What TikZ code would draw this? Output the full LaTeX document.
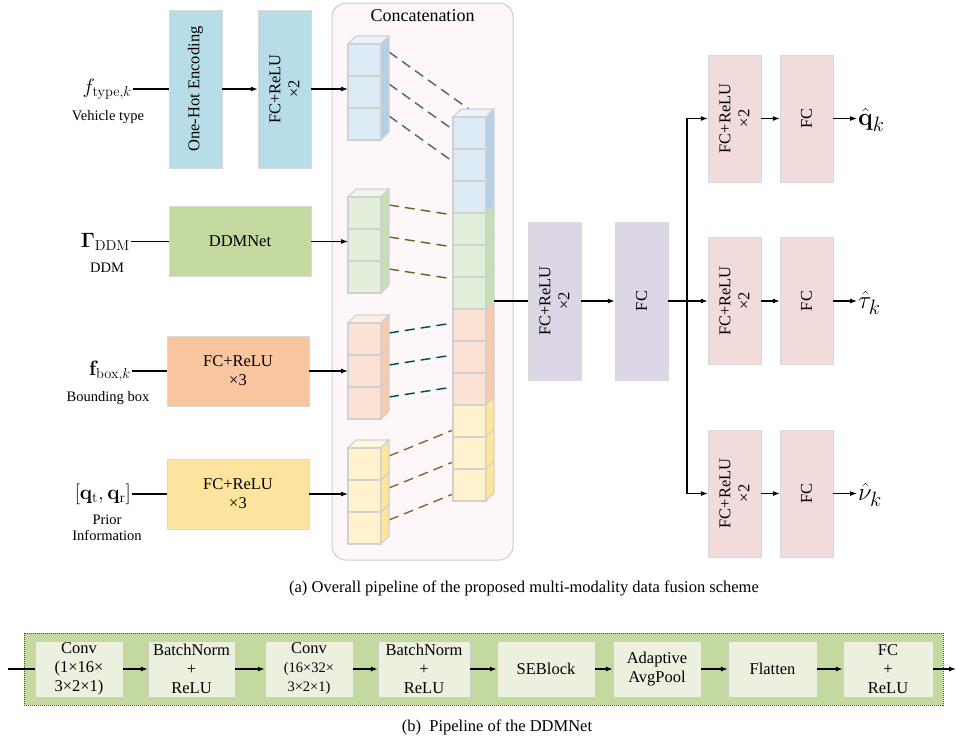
\documentclass[tikz,border=0pt]{standalone}
\usepackage{amsmath}
\usepackage{amssymb}
\usepackage[no-math]{fontspec}
\setmainfont{Liberation Serif}
\usepackage{tikz}
\usetikzlibrary{arrows.meta,positioning,calc}
\definecolor{blueBox}{HTML}{B7DDE8}
\definecolor{greenBox}{HTML}{C4D9A0}
\definecolor{orangeBox}{HTML}{F8C59F}
\definecolor{yellowBox}{HTML}{FCE49E}
\definecolor{purpleBox}{HTML}{DDD6E7}
\definecolor{pinkBox}{HTML}{F2DCDB}
\definecolor{panelFill}{HTML}{FDF7F9}
\definecolor{innerBox}{HTML}{EBF1DE}
% stack colours: front, side, top
\definecolor{blueF}{HTML}{DDEBF7}\definecolor{blueS}{HTML}{B4D0E9}\definecolor{blueT}{HTML}{EAF2FA}
\definecolor{greenF}{HTML}{E2EFDA}\definecolor{greenS}{HTML}{C6E0B4}\definecolor{greenT}{HTML}{EEF5E9}
\definecolor{orangeF}{HTML}{FBE2D5}\definecolor{orangeS}{HTML}{F8CBAD}\definecolor{orangeT}{HTML}{FDEEE5}
\definecolor{yellowF}{HTML}{FFF2CC}\definecolor{yellowS}{HTML}{FFE699}\definecolor{yellowT}{HTML}{FFF7E0}
\tikzset{%
  box/.style={draw=white!85!black,fill=#1,align=center,inner sep=2pt},
  arrow/.style={-{Latex[length=7pt,width=5pt]}, line width=1.1pt},
  wire/.style={line width=1.1pt},
  cube/.style={draw=black!18,line width=1.1pt}%
}
% cells of a stack: x, top y, number of cells, front colour, side colour
\newcommand{\cubecells}[5]{%
  \foreach \i in {1,...,#3} {
    \pgfmathsetmacro\ya{#2+32*(\i-1)}
    \filldraw[cube, fill=#4] (#1,\ya) rectangle ++(33,32);
    \filldraw[cube, fill=#5] (#1+33,\ya) -- ++(8,-8) -- ++(0,32) -- ++(-8,8) -- cycle;
  }%
}
% top face of a stack: x, top y, colour
\newcommand{\cubetop}[3]{%
  \filldraw[cube, fill=#3] (#1,#2) -- ++(8,-8) -- ++(33,0) -- ++(-8,8) -- cycle;%
}

\begin{document}
\begin{tikzpicture}[
    x=1pt, y=-1pt,
    font=\fontsize{16.5}{19}\selectfont,
    vbox/.style={
        box=#1,
        rotate=90,
        minimum height=53pt
    },
    hbox/.style={
        box=#1,
        minimum width=142pt,
        minimum height=70pt
    },
    ddmbox/.style={
        draw=white!80!black,
        fill=innerBox,
        align=center,
        minimum height=56pt,
        inner sep=1pt
    },
    sym/.style={font=\fontsize{20.74}{24}\selectfont, inner sep=1pt},
    outsym/.style={font=\fontsize{24.88}{28}\selectfont, inner sep=1pt},
    note/.style={font=\fontsize{14.5}{16}\selectfont, align=center, inner sep=0pt},
    fuse/.style={line width=1.4pt, dash pattern=on 10pt off 6pt}
]
\useasboundingbox (0,0) rectangle (956,745);

% Concatenation panel
\node[draw=black!20, fill=panelFill, rounded corners=14pt, line width=1pt,
      minimum width=181pt, minimum height=557pt] (concat) at (422.5,281.5) {};
\node[font=\fontsize{18}{20}\selectfont] (concattitle) at (422.5,16) {Concatenation};

% Input branches (rotated boxes: north is on the left, south on the right)
\node[vbox=blueBox, minimum width=158pt] (onehot) at (195.5,89) {One-Hot Encoding};
\node[vbox=blueBox, minimum width=158pt] (fcA) at (284.5,89) {FC+ReLU\\×2};
\node[hbox=greenBox] (ddmnet) at (240,241.5) {DDMNet};
\node[hbox=orangeBox] (fcC) at (238,371) {FC+ReLU\\×3};
\node[hbox=yellowBox] (fcD) at (238,494) {FC+ReLU\\×3};

% Input labels
\node[sym, anchor=east] (ftype) at (133,89) {$f_{\mathrm{type},k}$};
\node[note] (ftypetxt) at (108,117) {Vehicle type};
\node[sym, anchor=east] (gddm) at (131,241.5) {$\mathbf{\Gamma}_{\mathrm{DDM}}$};
\node[note] (gddmtxt) at (107,268) {DDM};
\node[sym, anchor=east] (fbox) at (132,371) {$\mathbf{f}_{\mathrm{box},k}$};
\node[note] (fboxtxt) at (108,398) {Bounding box};
\node[sym, anchor=east] (prior) at (132,494) {$[\mathbf{q}_{\mathrm{t}},\mathbf{q}_{\mathrm{r}}]$};
\node[note] (priortxt) at (107,528) {Prior\\Information};

% Fusion head
\node[vbox=purpleBox, minimum width=158pt] (mixA) at (554.5,301) {FC+ReLU\\×2};
\node[vbox=purpleBox, minimum width=158pt] (mixB) at (641.5,301) {FC};
\coordinate (split) at (687,301);

% Output heads
\node[vbox=pinkBox, minimum width=127pt] (hqA) at (734.5,118.5) {FC+ReLU\\×2};
\node[vbox=pinkBox, minimum width=127pt] (hqB) at (806.5,118.5) {FC};
\node[vbox=pinkBox, minimum width=127pt] (htA) at (734.5,301) {FC+ReLU\\×2};
\node[vbox=pinkBox, minimum width=127pt] (htB) at (806.5,301) {FC};
\node[vbox=pinkBox, minimum width=127pt] (hvA) at (734.5,493.5) {FC+ReLU\\×2};
\node[vbox=pinkBox, minimum width=127pt] (hvB) at (806.5,493.5) {FC};
\node[outsym, anchor=west] (outq) at (857,120) {$\hat{\mathbf{q}}_k$};
\node[outsym, anchor=west] (outt) at (857,303) {$\hat{\tau}_k$};
\node[outsym, anchor=west] (outv) at (857,495) {$\hat{\nu}_k$};

% Dashed links between stacks
\foreach \i in {0,1,2} {
  \draw[fuse, draw=cyan!40!black] (389,52+32*\i) -- (480,117+32*\i);
  \draw[fuse, draw=olive!65!black] (389,205+32*\i) -- (453,215+32*\i);
  \draw[fuse, draw=teal!55!black] (389,333+32*\i) -- (453,323+32*\i);
  \draw[fuse, draw=brown!75!black] (389,456+32*\i) -- (453,430+32*\i);
}

% Feature stacks
\cubetop{348}{44}{blueT}
\cubecells{348}{44}{3}{blueF}{blueS}
\cubetop{348}{197}{greenT}
\cubecells{348}{197}{3}{greenF}{greenS}
\cubetop{348}{323}{orangeT}
\cubecells{348}{323}{3}{orangeF}{orangeS}
\cubetop{348}{448}{yellowT}
\cubecells{348}{448}{3}{yellowF}{yellowS}

\cubetop{453}{117}{blueT}
\cubecells{453}{117}{3}{blueF}{blueS}
\cubecells{453}{213}{3}{greenF}{greenS}
\cubecells{453}{309}{3}{orangeF}{orangeS}
\cubecells{453}{405}{3}{yellowF}{yellowS}
\coordinate (cubeIn) at (348,0);
\coordinate (stackOut) at (494,301);

% Arrows
\draw[wire] (ftype) -- (onehot);
\draw[arrow] (onehot) -- (fcA);
\draw[arrow] (fcA.south) -- (cubeIn |- fcA.south);
\draw[wire] (gddm.east) -- (ddmnet.west);
\draw[arrow] (ddmnet.east) -- (cubeIn |- ddmnet.east);
\draw[wire] (fbox.east) -- (fcC.west);
\draw[arrow] (fcC.east) -- (cubeIn |- fcC.east);
\draw[wire] (prior.east) -- (fcD.west);
\draw[arrow] (fcD.east) -- (cubeIn |- fcD.east);
\draw[wire] (stackOut) -- (mixA);
\draw[arrow] (mixA) -- (mixB);
\draw[wire] (mixB) -- (split);
\draw[arrow] (split) |- (hqA);
\draw[arrow] (split) -- (htA);
\draw[arrow] (split) |- (hvA);
\draw[arrow] (hqA) -- (hqB);
\draw[arrow] (htA) -- (htB);
\draw[arrow] (hvA) -- (hvB);
\draw[arrow] (hqB) -- (outq.west |- hqB);
\draw[arrow] (htB) -- (outt.west |- htB);
\draw[arrow] (hvB) -- (outv.west |- hvB);

\node (capA) at (524,588) {(a) Overall pipeline of the proposed multi-modality data fusion scheme};

% DDMNet pipeline
\node[draw=black!70, densely dotted, line width=1pt, fill=greenBox,
      minimum width=919pt, minimum height=72pt] (ddmframe) at (483.5,669) {};
\node[ddmbox, minimum width=88pt] (convA) at (79,669) {Conv\\(1×16×\\3×2×1)};
\node[ddmbox, minimum width=87pt] (bnA) at (191.5,669) {BatchNorm\\+\\ReLU};
\node[ddmbox, minimum width=88pt] (convB) at (309,669) {Conv\\{\fontsize{14.5}{19}\selectfont(16×32×}\\{\fontsize{14.5}{19}\selectfont 3×2×1)}};
\node[ddmbox, minimum width=92pt] (bnB) at (424,669) {BatchNorm\\+\\ReLU};
\node[ddmbox, minimum width=98pt] (seblock) at (546,669) {SEBlock};
\node[ddmbox, minimum width=88pt] (pool) at (657,669) {Adaptive\\AvgPool};
\node[ddmbox, minimum width=89pt] (flatten) at (772.5,669) {Flatten};
\node[ddmbox, minimum width=90pt] (fcout) at (888,669) {FC\\+\\ReLU};
\coordinate (ddmIn) at (8,669);
\coordinate (ddmOut) at (956,669);

\draw[wire] (ddmIn) -- (convA);
\draw[arrow] (convA) -- (bnA);
\draw[arrow] (bnA) -- (convB);
\draw[arrow] (convB) -- (bnB);
\draw[arrow] (bnB) -- (seblock);
\draw[arrow] (seblock) -- (pool);
\draw[arrow] (pool) -- (flatten);
\draw[arrow] (flatten) -- (fcout);
\draw[arrow] (fcout) -- (ddmOut);

\node (capB) at (497,727) {(b)\ \ Pipeline of the DDMNet};

\end{tikzpicture}
\end{document}
